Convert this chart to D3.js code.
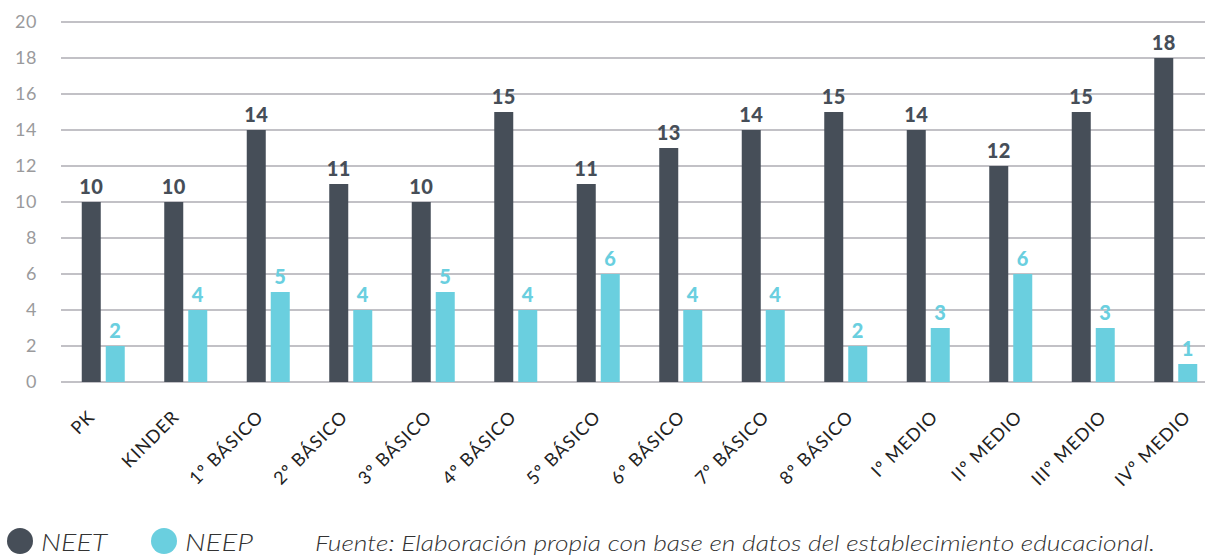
<!DOCTYPE html>
<html>
<head>
<meta charset="utf-8">
<script src="https://cdn.jsdelivr.net/npm/d3@7"></script>
<style>
  body { margin: 0; background: #fff; }
  text { font-family: Lato, "Open Sans", sans-serif; }
</style>
</head>
<body>
<div id="chart"></div>
<script>
// data
var categories = ["PK", "KINDER", "1º BÁSICO", "2º BÁSICO", "3º BÁSICO", "4º BÁSICO", "5º BÁSICO",
  "6º BÁSICO", "7º BÁSICO", "8º BÁSICO", "Iº MEDIO", "IIº MEDIO", "IIIº MEDIO", "IVº MEDIO"];
var neet = [10, 10, 14, 11, 10, 15, 11, 13, 14, 15, 14, 12, 15, 18];
var neep = [2, 4, 5, 4, 5, 4, 6, 4, 4, 2, 3, 6, 3, 1];
var seriesNames = ["NEET", "NEEP"];
var yTicks = [0, 2, 4, 6, 8, 10, 12, 14, 16, 18, 20];

var width = 1205, height = 556;
var colors = ["#464e58", "#6acfdf"];

var svg = d3.select("#chart").append("svg")
  .attr("width", width)
  .attr("height", height);

var x = d3.scaleBand().domain(categories).range([62, 1217]).paddingInner(0).paddingOuter(0);
// category labels sit on a slightly wider spacing than the bars
var xLab = d3.scalePoint().domain(categories).range([96, 1192]);
var y = d3.scaleLinear().domain([0, 20]).range([382, 22]);
var barW = 19, gap = 5;

// grid
svg.append("g").selectAll("line")
  .data(yTicks)
  .enter().append("line")
  .attr("x1", 61).attr("x2", width)
  .attr("y1", d => y(d)).attr("y2", d => y(d))
  .attr("stroke", "#c2c1c6")
  .attr("stroke-width", 2);

// y labels
svg.append("g").selectAll("text")
  .data(yTicks)
  .enter().append("text")
  .attr("x", 37)
  .attr("y", d => y(d) + 6)
  .attr("text-anchor", "end")
  .attr("fill", "#9a9a9c")
  .style("font-size", "18px")
  .style("letter-spacing", "0.5px")
  .text(d => d);

var rows = categories.map((c, i) => ({ cat: c, vals: [neet[i], neep[i]] }));

var groups = svg.append("g").selectAll("g")
  .data(rows)
  .enter().append("g")
  .attr("transform", d => "translate(" + (x(d.cat) + x.bandwidth() / 2) + ",0)");

[0, 1].forEach(function (s) {
  var off = s === 0 ? -(barW + gap / 2) : gap / 2;
  groups.append("rect")
    .attr("x", off)
    .attr("y", d => y(d.vals[s]))
    .attr("width", barW)
    .attr("height", d => y(0) - y(d.vals[s]))
    .attr("fill", colors[s]);
  groups.append("text")
    .attr("x", off + barW / 2)
    .attr("y", d => y(d.vals[s]) - 8)
    .attr("text-anchor", "middle")
    .attr("fill", colors[s])
    .style("font-size", "20px")
    .style("font-weight", "900")
    .style("letter-spacing", "0.5px")
    .text(d => d.vals[s]);
});

// x labels
svg.append("g").selectAll("text")
  .data(categories)
  .enter().append("text")
  .attr("transform", d => "translate(" + xLab(d) + ",418) rotate(-45)")
  .attr("text-anchor", "end")
  .attr("fill", "#222")
  .style("font-size", "18px")
  .style("letter-spacing", "1px")
  .text(d => d);

// legend
var legendX = [20, 164];
var legendLen = [66, 68];
seriesNames.forEach(function (n, i) {
  svg.append("circle")
    .attr("cx", legendX[i]).attr("cy", 541).attr("r", 13)
    .attr("fill", colors[i]);
  svg.append("text")
    .attr("x", legendX[i] + 21).attr("y", 551)
    .attr("fill", "#333")
    .style("font-size", "24px")
    .style("font-style", "italic")
    .style("font-weight", "300")
    .attr("textLength", legendLen[i])
    .attr("lengthAdjust", "spacingAndGlyphs")
    .text(n);
});

svg.append("text")
  .attr("x", 315).attr("y", 551)
  .attr("fill", "#333")
  .style("font-size", "21px")
  .style("font-style", "italic")
  .style("font-weight", "300")
  .attr("textLength", 840)
  .attr("lengthAdjust", "spacingAndGlyphs")
  .text("Fuente: Elaboración propia con base en datos del establecimiento educacional.");
</script>
</body>
</html>
